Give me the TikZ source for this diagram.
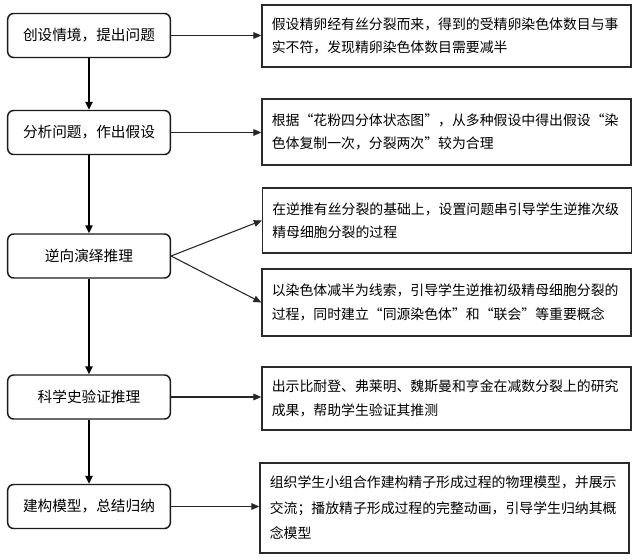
\documentclass[tikz,border=0pt]{standalone}
\usepackage{fontspec}
\setmainfont{Noto Sans CJK SC}
\usepackage{tikz}
\usetikzlibrary{
  arrows.meta,
  positioning,
  calc
}
\definecolor{stepLine}{HTML}{1A1A1A}
\definecolor{noteLine}{HTML}{2A2A2A}
\tikzset{
  stepbox/.style={
    draw=stepLine, rounded corners=4.5pt, line width=1.1pt,
    minimum width=122pt, minimum height=33pt, inner sep=0pt,
    font=\fontsize{11pt}{14pt}\selectfont, align=center
  },
  notebox/.style={
    draw=noteLine, line width=0.9pt, minimum width=276.75pt,
    text width=262pt, inner xsep=7.4pt, inner ysep=0pt,
    font=\fontsize{10.4pt}{17.5pt}\selectfont, align=left
  },
  mainflow/.style={-{Triangle[length=6pt,width=5.5pt]}, line width=1.6pt, black},
  sideflow/.style={-{Triangle[length=6pt,width=5pt]}, line width=0.8pt, black!85}
}

\begin{document}
\begin{tikzpicture}[x=0.75pt,y=-0.75pt]
  \useasboundingbox (0,0) rectangle (637,560);
  % steps on the left
  \node[stepbox] (sit)   at (89,35.5)  {创设情境，提出问题};
  \node[stepbox] (hyp)   at (89,132.5) {分析问题，作出假设};
  \node[stepbox] (ded)   at (89,256)   {逆向演绎推理};
  \node[stepbox] (hist)  at (89,397)   {科学史验证推理};
  \node[stepbox] (model) at (89,506.5) {建构模型，总结归纳};
  % notes on the right
  \node[notebox, minimum height=46.5pt] (sitnote)  at (446.5,36)    {假设精卵经有丝分裂而来，得到的受精卵染色体数目与事\\实不符，发现精卵染色体数目需要减半};
  \node[notebox, minimum height=49.5pt] (hypnote)  at (446.5,132)   {根据“花粉四分体状态图”，从多种假设中得出假设“染\\色体复制一次，分裂两次”较为合理};
  \node[notebox, minimum height=48.75pt] (dednoteA) at (447,220.5)  {在逆推有丝分裂的基础上，设置问题串引导学生逆推次级\\精母细胞分裂的过程};
  \node[notebox, minimum height=50.25pt] (dednoteB) at (446.5,302.5) {以染色体减半为线索，引导学生逆推初级精母细胞分裂的\\过程，同时建立“同源染色体”和“联会”等重要概念};
  \node[notebox, minimum height=47.25pt] (histnote) at (446.5,398.5) {出示比耐登、弗莱明、魏斯曼和亨金在减数分裂上的研究\\成果，帮助学生验证其推测};
  \node[notebox, minimum height=67.5pt, font=\fontsize{10.4pt}{19pt}\selectfont] (modelnote) at (444.5,508) {组织学生小组合作建构精子形成过程的物理模型，并展示\\交流；播放精子形成过程的完整动画，引导学生归纳其概\\念模型};
  % main chain
  \draw[mainflow] (sit) -- (hyp);
  \draw[mainflow] (hyp) -- (ded);
  \draw[mainflow] (ded) -- (hist);
  \draw[mainflow] (hist) -- (model);
  % side arrows
  \draw[sideflow] (sit.east) -- (sit.east -| sitnote.west);
  \draw[sideflow] (hyp.east) -- (hyp.east -| hypnote.west);
  \draw[sideflow] (ded.east) -- (dednoteA.west);
  \draw[sideflow] (ded.east) -- (dednoteB.west);
  \draw[sideflow] (hist.east) -- (hist.east -| histnote.west);
  \draw[sideflow] (model.east) -- (model.east -| modelnote.west);
\end{tikzpicture}
\end{document}
